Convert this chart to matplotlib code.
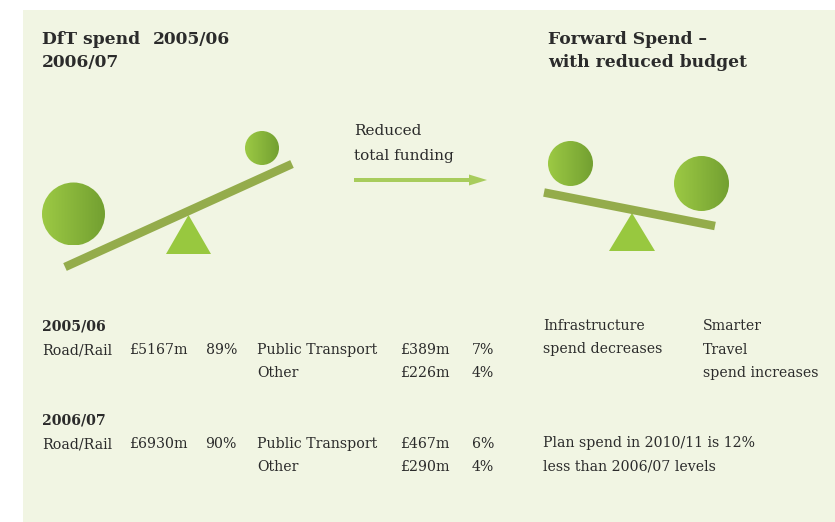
import matplotlib.pyplot as plt
import numpy as np
from matplotlib.patches import Rectangle, Circle, Polygon, FancyArrow

# figures read from the infographic
years = ['2005/06', '2006/07']
road_rail = [5167, 6930]
road_rail_pct = [89, 90]
public_transport = [389, 467]
public_transport_pct = [7, 6]
other = [226, 290]
other_pct = [4, 4]

plan_cut_pct = 12
plan_year = '2010/11'

BG = '#F1F5E3'
TXT = '#2b2b2b'
BEAM = '#94AC4B'
TRI = '#98C83F'
ARROW = '#A8CC5C'
FONT = 'DejaVu Serif'
FS = 10.2
TFS = 12.3


def gradient_ball(ax, cx, cy, r):
    circ = Circle((cx, cy), r, facecolor='none', edgecolor='none')
    ax.add_patch(circ)
    grad = np.linspace(0, 1, 64)[None, :]
    cmap = plt.matplotlib.colors.LinearSegmentedColormap.from_list(
        'ball', ['#9CC944', '#73A031'])
    im = ax.imshow(grad, cmap=cmap, extent=(cx - r, cx + r, cy + r, cy - r),
                   aspect='auto', interpolation='bilinear', zorder=3)
    im.set_clip_path(circ)


def seesaw(ax, p0, p1, width, apex, base_y, half_base, balls):
    ax.add_patch(Polygon([apex, (apex[0] - half_base, base_y), (apex[0] + half_base, base_y)],
                         closed=True, facecolor=TRI, edgecolor='none', zorder=2))
    (x0, y0), (x1, y1) = p0, p1
    d = np.array([x1 - x0, y1 - y0], dtype=float)
    n = np.array([-d[1], d[0]]) / np.hypot(*d) * width / 2
    pts = [np.array(p0) + n, np.array(p1) + n, np.array(p1) - n, np.array(p0) - n]
    ax.add_patch(Polygon(pts, closed=True, facecolor=BEAM, edgecolor='none', zorder=3))
    for cx, cy, r in balls:
        gradient_ball(ax, cx, cy, r)


fig = plt.figure(figsize=(8.35, 5.22), dpi=100)
ax = fig.add_axes([0, 0, 1, 1])
ax.set_xlim(0, 835)
ax.set_ylim(522, 0)
ax.axis('off')
ax.add_patch(Rectangle((23, 10), 812, 512, facecolor=BG, edgecolor='none', zorder=0))

# titles
title_kw = dict(fontsize=TFS, fontweight='bold', family=FONT, color=TXT, va='baseline')
ax.text(42, 44, 'DfT spend', **title_kw)
ax.text(153, 44, years[0], **title_kw)
ax.text(42, 67, years[1], **title_kw)
ax.text(548, 44, 'Forward Spend \u2013', **title_kw)
ax.text(548, 67, 'with reduced budget', **title_kw)

# left seesaw: heavy infrastructure side
seesaw(ax, (65, 267), (292, 164), 8.5, (188.5, 215), 254, 22.5,
       [(73.5, 214, 31.5), (262, 148, 17)])
# right seesaw: forward spend
seesaw(ax, (544, 192.5), (715, 226), 8.5, (632, 213), 251, 23,
       [(570.5, 163.5, 22.5), (701.5, 183.5, 27.5)])

# arrow
ax.text(354, 135, 'Reduced', fontsize=FS + 0.8, family=FONT, color=TXT, va='baseline')
ax.text(354, 160, 'total funding', fontsize=FS + 0.8, family=FONT, color=TXT, va='baseline')
ax.add_patch(FancyArrow(354, 180, 133, 0, width=4, head_width=11, head_length=18,
                        length_includes_head=True, facecolor=ARROW, edgecolor='none'))

# table
header_base = [331, 425]
row_base = [354, 448]
kw = dict(fontsize=FS, family=FONT, color=TXT, va='baseline')
for i, yr in enumerate(years):
    ax.text(42, header_base[i], yr, fontweight='bold', **kw)
    yb = row_base[i]
    y2 = yb + 23
    ax.text(42, yb, 'Road/Rail', **kw)
    ax.text(129, yb, f'\u00a3{road_rail[i]}m', **kw)
    ax.text(237, yb, f'{road_rail_pct[i]}%', ha='right', **kw)
    ax.text(257, yb, 'Public Transport', **kw)
    ax.text(400, yb, f'\u00a3{public_transport[i]}m', **kw)
    ax.text(494, yb, f'{public_transport_pct[i]}%', ha='right', **kw)
    ax.text(257, y2, 'Other', **kw)
    ax.text(400, y2, f'\u00a3{other[i]}m', **kw)
    ax.text(494, y2, f'{other_pct[i]}%', ha='right', **kw)

# right-hand notes
for j, s in enumerate(['Infrastructure', 'spend decreases']):
    ax.text(543, 330 + 23.5 * j, s, **kw)
for j, s in enumerate(['Smarter', 'Travel', 'spend increases']):
    ax.text(703, 330 + 23.5 * j, s, **kw)
ax.text(543, 447, f'Plan spend in {plan_year} is {plan_cut_pct}%', **kw)
ax.text(543, 471, f'less than {years[1]} levels', **kw)

fig.savefig('out.png', dpi=100)
